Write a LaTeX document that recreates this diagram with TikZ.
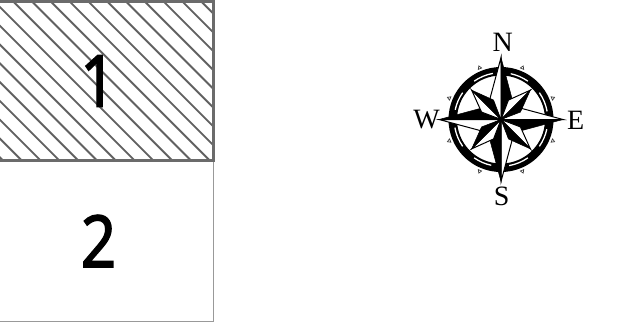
\documentclass[tikz,border=0pt]{standalone}
\usepackage{fontspec}
\setmainfont{Liberation Serif}
\newfontfamily\numfont[FakeBold=2]{Noto Sans}
\begin{document}
\begin{tikzpicture}[x=1pt,y=-1pt,
  numlabel/.style={font=\numfont\fontsize{72}{72}\selectfont,text=black,inner sep=0pt,xscale=.86},
  dirlabel/.style={font=\fontsize{28}{28}\selectfont,text=black,inner sep=0pt},
  hatchline/.style={draw=black!62,line width=1.9pt},
  blk/.style={fill=black,draw=black,line width=.5pt},
  wht/.style={fill=white,draw=black,line width=1pt}]
\useasboundingbox (0,0) rectangle (621,333);
\fill[white] (0,0) rectangle (621,333);
% region 2
\draw[draw=black!40,line width=1pt] (-2,321) -- (213.3,321) -- (213.3,160);
% region 1 hatch
\begin{scope}
\clip (-2,0) rectangle (213,160);
\foreach \k in {-10,...,12} { \draw[hatchline] (\k*18.8+11.7,0) -- ++(170,170); }
\end{scope}
\draw[draw=black!58,line width=3pt] (-3,1) -- (213,1) -- (213,160) -- (-3,160);
\node[numlabel] (one) at (98,81) {1};
\node[numlabel] (two) at (98.5,241) {2};
% compass
\begin{scope}[shift={(501,119.5)}]
\fill[black,even odd rule] (0,0) circle (52.5) (0,0) circle (44);
\foreach \a in {0,90,180,270} {
  \draw[white,line width=1.3pt] (\a+12:46.8) arc[start angle=\a+12,end angle=\a+35,radius=46.8];
  \draw[white,line width=1.3pt] (\a+55:46.8) arc[start angle=\a+55,end angle=\a+80,radius=46.8];
}
\foreach \a in {0,...,7} {
  \begin{scope}[rotate=\a*45+22.5]
    \path[fill=white,draw=black!75,line width=.7pt] (0,-58) -- (-1.8,-55) -- (1.8,-55) -- cycle;
  \end{scope}
}
\foreach \a in {0,90,180,270} {
  \begin{scope}[rotate=\a]
    \path[wht] (0,0) -- (-11,-21) -- (0,-62) -- cycle;
    \path[blk] (0,0) -- (11,-21) -- (0,-62) -- cycle;
  \end{scope}
}
\foreach \a in {45,135,225,315} {
  \begin{scope}[rotate=\a]
    \path[wht] (0,0) -- (-8.5,-19) -- (0,-41.5) -- cycle;
    \path[blk] (0,0) -- (8.5,-19) -- (0,-41.5) -- cycle;
  \end{scope}
}
\end{scope}
\node[dirlabel] (n) at (502.7,42.5) {N};
\node[dirlabel] (s) at (501.7,196.7) {S};
\node[dirlabel] (w) at (426.7,119.3) {W};
\node[dirlabel] (e) at (575.7,120) {E};
\end{tikzpicture}
\end{document}
